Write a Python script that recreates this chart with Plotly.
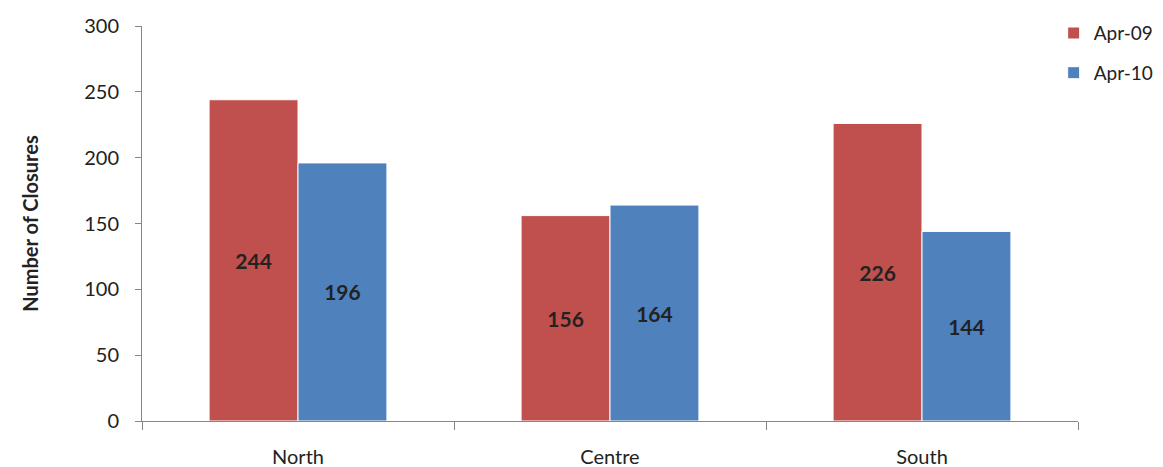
import plotly.graph_objects as go

categories = ["North", "Centre", "South"]
apr09 = [244, 156, 226]
apr10 = [196, 164, 144]
series_names = ["Apr-09", "Apr-10"]
colors = ["#C0504D", "#4F81BD"]

FONT = "Lato, 'Open Sans', sans-serif"

fig = go.Figure()
for name, vals, col, grp in zip(series_names, [apr09, apr10], colors, ["a", "b"]):
    fig.add_trace(go.Bar(
        x=categories, y=vals, name=name, legendgroup=grp,
        marker=dict(color=col, line=dict(color="white", width=1)),
        text=[str(v) for v in vals], textposition="inside",
        insidetextanchor="middle", textangle=0,
        textfont=dict(family=FONT, size=21, color="#222222", weight="bold"),
    ))

fig.update_layout(
    width=1155, height=459,
    margin=dict(l=134, r=85, t=18, b=46, autoexpand=False),
    paper_bgcolor="white", plot_bgcolor="white",
    barmode="group", bargap=0.43, bargroupgap=0.0,
    font=dict(family=FONT, size=20, color="#222222"),
    showlegend=True,
    legend=dict(x=0.974, y=1.03, xanchor="left", yanchor="top",
                font=dict(size=19, color="#222222"), tracegroupgap=12,
                itemwidth=30, bgcolor="rgba(0,0,0,0)"),
    uniformtext=dict(mode="show", minsize=10),
)
fig.update_xaxes(
    showline=True, linecolor="#868686", linewidth=1,
    ticks="outside", tickson="boundaries", ticklen=8, tickcolor="#868686",
    tickfont=dict(size=20), showgrid=False, ticklabelstandoff=18,
)
fig.update_yaxes(
    range=[0, 300], dtick=50, showline=True, linecolor="#868686", linewidth=1,
    ticks="outside", ticklen=6, tickcolor="#868686", showgrid=False,
    tickfont=dict(size=20), zeroline=False, ticklabelstandoff=12,
    title=dict(text="<b>Number of Closures</b>", font=dict(size=20), standoff=40),
)
fig.write_html("out.html")
